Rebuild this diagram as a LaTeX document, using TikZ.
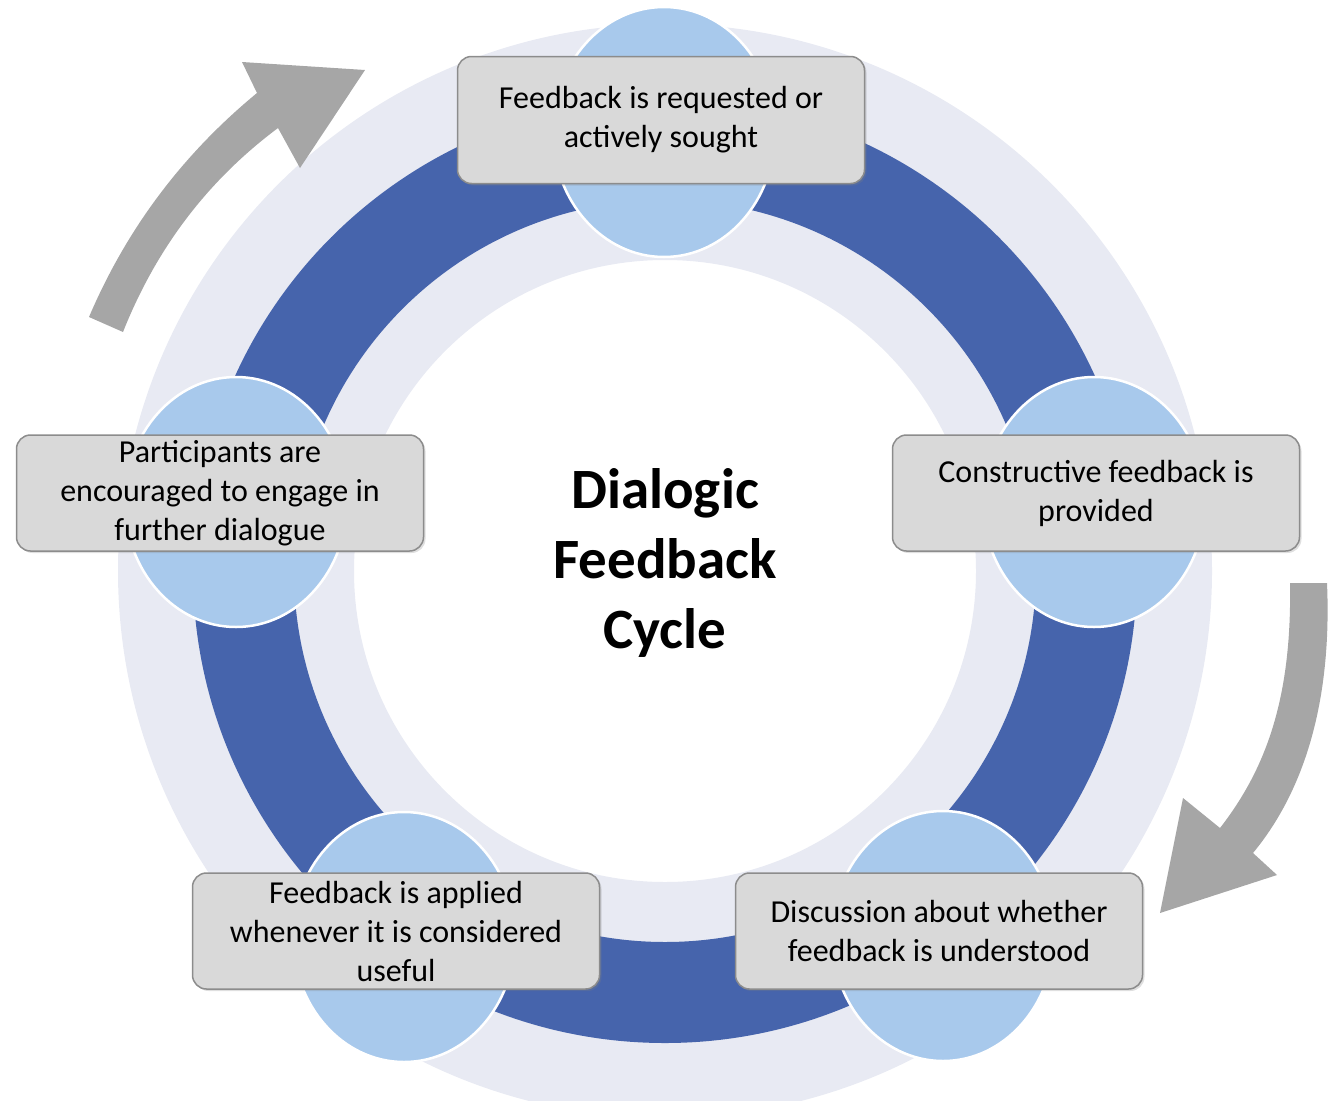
\documentclass[tikz,border=0pt]{standalone}
\usepackage{fontspec}
\setmainfont{Carlito}
\usetikzlibrary{shapes.geometric,shadows}

\definecolor{ringlight}{RGB}{232,234,243}
\definecolor{ringdark}{RGB}{70,100,172}
\definecolor{spotblue}{RGB}{168,201,236}
\definecolor{boxgray}{RGB}{217,217,217}
\definecolor{boxline}{RGB}{140,140,140}
\definecolor{flowgray}{RGB}{166,166,166}

\begin{document}
\begin{tikzpicture}
      [x = 1pt, y = -1pt,
      spot/.style= {
         ellipse,
         draw = white,
         line width = 2.5pt,
         fill = spotblue,
         minimum width = 222pt,
         minimum height = 250pt,
         inner sep = 0pt
      },
      phase/.style= {
         rectangle,
         rounded corners = 14pt,
         draw = boxline,
         line width = 1.5pt,
         fill = boxgray,
         minimum width = 407pt,
         minimum height = 116pt,
         inner sep = 2pt,
         align = center,
         font = \fontsize{32}{39}\selectfont,
         drop shadow = {shadow xshift = 2pt, shadow yshift = -2pt, opacity = 0.25}
      },
      flow/.style= {fill = flowgray}]
      \clip (0, 0) rectangle (1343, 1100);
      \coordinate (c) at (665, 571);

      \fill[ringlight, even odd rule] (c) circle [radius = 547pt] (c) circle [radius = 311pt];
      \fill[ringdark, even odd rule] (c) circle [radius = 472pt] (c) circle [radius = 371pt];

      \node[spot] (s1) at (664, 132) {};
      \node[spot] (s2) at (1094, 502) {};
      \node[spot] (s3) at (943, 936) {};
      \node[spot] (s4) at (404, 937) {};
      \node[spot] (s5) at (236, 502) {};

      \node[phase, minimum height = 127pt] (b1) at (661, 120) {Feedback is requested or\\actively sought};
      \node[phase] (b2) at (1096, 493) {Constructive feedback is\\provided};
      \node[phase] (b3) at (939, 931) {Discussion about whether\\feedback is understood};
      \node[phase] (b4) at (396, 931) {Feedback is applied\\whenever it is considered\\useful};
      \node[phase] (b5) at (220, 493) {Participants are\\encouraged to engage in\\further dialogue};

      \fill[flow] (89, 317) .. controls (127, 228) and (183, 154) .. (257, 93)
         -- (242, 62) -- (365, 70) -- (300, 168) -- (278, 128)
         .. controls (207, 181) and (156, 249) .. (123, 332) -- cycle;
      \fill[flow] (1327, 583) .. controls (1332, 700) and (1305, 790) .. (1253, 853)
         -- (1277, 875) -- (1160, 913) -- (1183, 798) -- (1220, 828)
         .. controls (1265, 770) and (1292, 700) .. (1290, 583) -- cycle;

      \node[font = \fontsize{57}{70}\selectfont\bfseries, align = center] (title) at (665, 563) {Dialogic\\Feedback\\Cycle};
   \end{tikzpicture}
\end{document}
